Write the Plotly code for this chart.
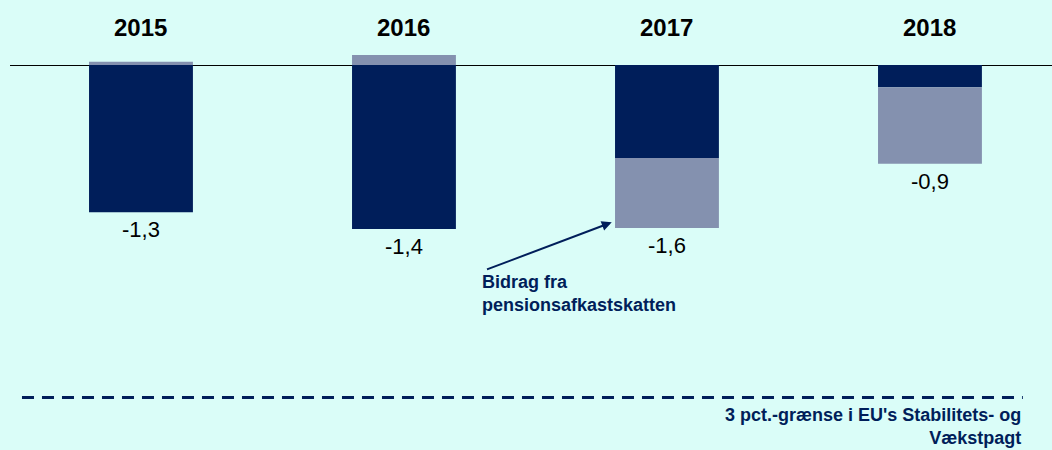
import plotly.graph_objects as go

# data (pct. of GDP)
years = ["2015", "2016", "2017", "2018"]
ex_pension = [-1.33, -1.48, -0.84, -0.20]   # dark navy part
pension_tax = [0.03, 0.09, -0.63, -0.69]    # contribution from pension yield tax
net_labels = ["-1,3", "-1,4", "-1,6", "-0,9"]
eu_limit = -3.0

NAVY = "#001E5A"
GREY = "#8491AF"
BG = "#DAFDF8"

xs = list(range(len(years)))

fig = go.Figure()
fig.add_trace(go.Bar(x=xs, y=ex_pension, marker=dict(color=NAVY, line_width=0),
                     width=0.395, showlegend=False, hoverinfo="skip"))
fig.add_trace(go.Bar(x=xs, y=pension_tax, marker=dict(color=GREY, line_width=0),
                     width=0.395, showlegend=False, hoverinfo="skip"))

annotations = []
for i, yr in enumerate(years):
    annotations.append(dict(x=i, y=0.94, xref="x", yref="paper", yanchor="middle",
                            text="<b>%s</b>" % yr, showarrow=False,
                            font=dict(size=24, color="black")))
    bottom = min(0, ex_pension[i]) + min(0, pension_tax[i])
    annotations.append(dict(x=i, y=bottom, xref="x", yref="y", text=net_labels[i],
                            showarrow=False, yanchor="top", yshift=-3,
                            font=dict(size=22, color="black")))

# arrow pointing to the pension-tax part of 2017
annotations.append(dict(x=1.79, y=-1.42, ax=1.31, ay=-1.85, xref="x", yref="y",
                        axref="x", ayref="y", text="", showarrow=True,
                        arrowhead=2, arrowsize=1, arrowwidth=2, arrowcolor=NAVY))
annotations.append(dict(x=1.29, y=-1.85, xref="x", yref="y", xanchor="left", yanchor="top",
                        align="left", showarrow=False,
                        text="<b>Bidrag fra<br>pensionsafkastskatten</b>",
                        font=dict(size=18, color=NAVY)))
annotations.append(dict(x=0.972, y=0.104, xref="paper", yref="paper", xanchor="right",
                        yanchor="top", align="right", showarrow=False,
                        text="<b>3 pct.-grænse i EU's Stabilitets- og<br>Vækstpagt</b>",
                        font=dict(size=18, color=NAVY)))

fig.add_shape(type="line", xref="paper", yref="y", x0=0.0115, x1=0.972, y0=eu_limit, y1=eu_limit,
              line=dict(color=NAVY, width=3, dash="12px,8px"))

fig.update_layout(
    width=1052, height=450,
    margin=dict(l=10, r=0, t=0, b=0, pad=0),
    barmode="relative",
    paper_bgcolor=BG, plot_bgcolor=BG,
    font=dict(family="Liberation Sans, Arial, sans-serif"),
    annotations=annotations,
    xaxis=dict(range=[-0.498, 3.464], showgrid=False, zeroline=False, showticklabels=False),
    yaxis=dict(range=[-3.475, 0.587], showgrid=False, showticklabels=False,
               zeroline=True, zerolinecolor="black", zerolinewidth=1.2),
)

fig.write_html("out.html", config={"displayModeBar": False},
               post_script="document.body.style.margin='0px';"
               "document.body.style.background='%s';" % BG)
